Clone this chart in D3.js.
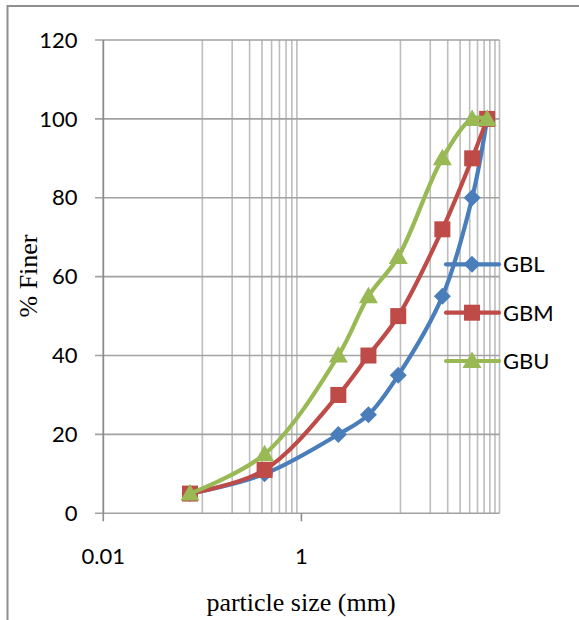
<!DOCTYPE html>
<html>
<head>
<meta charset="utf-8">
<script src="https://cdn.jsdelivr.net/npm/d3@7"></script>
<style>
  html, body { margin: 0; padding: 0; background: #fff; }
  svg { display: block; }
</style>
</head>
<body>
<svg id="chart" width="579" height="620"></svg>
<script>
// Sieve sizes (mm) and cumulative % finer for each sample
const sizes = [0.075, 0.425, 2.36, 4.75, 9.5, 26.5, 53, 75];
const gbl = [5, 10, 20, 25, 35, 55, 80, 100];
const gbm = [5, 11, 30, 40, 50, 72, 90, 100];
const gbu = [5, 15, 40, 55, 65, 90, 100, 100];
const seriesNames = ["GBL", "GBM", "GBU"];
const seriesColors = ["#4A7EBB", "#BE4B48", "#98B954"];
const seriesShapes = ["diamond", "square", "triangle"];
const yTicks = [0, 20, 40, 60, 80, 100, 120];
const xLabelTicks = [0.01, 1];
const xGridTicks = [0.1, 0.2, 0.3, 0.4, 0.5, 0.6, 0.7, 0.8, 0.9, 10, 20, 30, 40, 50, 60, 70, 80, 90, 100];

const series = [gbl, gbm, gbu].map((vals, i) => ({
  name: seriesNames[i], color: seriesColors[i], shape: seriesShapes[i],
  points: vals.map((v, j) => ({ x: sizes[j], y: v }))
}));

const svg = d3.select("#chart");
const x = d3.scaleLog().domain([0.01, 100]).range([103.3, 499.5]);
const y = d3.scaleLinear().domain([0, 120]).range([513.3, 40]);

// outer chart frame
svg.append("rect")
  .attr("x", 7.5).attr("y", 6).attr("width", 600).attr("height", 640)
  .attr("fill", "none").attr("stroke", "#8e8e8e").attr("stroke-width", 2);

// vertical gridlines (log minor grid)
svg.append("g").selectAll("line").data(xGridTicks).join("line")
  .attr("x1", d => x(d)).attr("x2", d => x(d))
  .attr("y1", y(120)).attr("y2", y(0))
  .attr("stroke", "#bdbdbd").attr("stroke-width", 1.6);

// horizontal gridlines with outward tick
svg.append("g").selectAll("line").data(yTicks).join("line")
  .attr("x1", 95).attr("x2", x(100))
  .attr("y1", d => y(d)).attr("y2", d => y(d))
  .attr("stroke", "#a2a2a2").attr("stroke-width", 1.6);

// y axis line
svg.append("line")
  .attr("x1", x(0.01)).attr("x2", x(0.01)).attr("y1", y(120)).attr("y2", y(0))
  .attr("stroke", "#8c8c8c").attr("stroke-width", 1.8);

// x major ticks
svg.append("g").selectAll("line").data(xLabelTicks).join("line")
  .attr("x1", d => x(d)).attr("x2", d => x(d))
  .attr("y1", y(0)).attr("y2", y(0) + 8)
  .attr("stroke", "#8c8c8c").attr("stroke-width", 1.6);

// y tick labels
svg.append("g").selectAll("text").data(yTicks).join("text")
  .attr("x", 77.5).attr("y", d => y(d)).attr("dy", "0.35em")
  .attr("text-anchor", "end")
  .attr("font-family", "Lato, 'Open Sans', sans-serif").attr("font-size", 22)
  .attr("fill", "#000").text(d => d);

// x tick labels
svg.append("g").selectAll("text").data(xLabelTicks).join("text")
  .attr("x", d => x(d)).attr("y", 563.5)
  .attr("text-anchor", "middle")
  .attr("font-family", "Lato, 'Open Sans', sans-serif").attr("font-size", 22)
  .attr("fill", "#000").text(d => d3.format("")(d));

// axis titles
svg.append("text")
  .attr("x", 301).attr("y", 611).attr("text-anchor", "middle")
  .attr("font-family", "'Liberation Serif', 'Times New Roman', serif").attr("font-size", 26)
  .text("particle size (mm)");
svg.append("text")
  .attr("transform", "translate(37,276) rotate(-90)").attr("text-anchor", "middle")
  .attr("font-family", "'Liberation Serif', 'Times New Roman', serif").attr("font-size", 26)
  .text("% Finer");

function markerPath(shape) {
  if (shape === "diamond") return "M0,-8.5L8.5,0L0,8.5L-8.5,0Z";
  if (shape === "square") return "M-8,-8H8V8H-8Z";
  return "M0,-9.5L9.5,7L-9.5,7Z";
}

const line = d3.line().x(d => x(d.x)).y(d => y(d.y)).curve(d3.curveCatmullRom.alpha(0.5));

// series: line then markers, drawn in order
series.forEach(s => {
  const g = svg.append("g");
  g.append("path").attr("d", line(s.points))
    .attr("fill", "none").attr("stroke", s.color).attr("stroke-width", 4.2)
    .attr("stroke-linejoin", "round").attr("stroke-linecap", "round");
  g.selectAll("path.m").data(s.points).join("path").attr("class", "m")
    .attr("transform", d => `translate(${x(d.x)},${y(d.y)})`)
    .attr("d", markerPath(s.shape)).attr("fill", s.color);
});

// legend
const legendY = [264.3, 312.7, 361];
series.forEach((s, i) => {
  const g = svg.append("g").attr("transform", `translate(0,${legendY[i]})`);
  g.append("line").attr("x1", 446).attr("x2", 499).attr("y1", 0).attr("y2", 0)
    .attr("stroke", s.color).attr("stroke-width", 4.2).attr("stroke-linecap", "round");
  g.append("path").attr("transform", "translate(472,0)").attr("d", markerPath(s.shape)).attr("fill", s.color);
  g.append("text").attr("x", 503).attr("y", 0).attr("dy", "0.36em")
    .attr("font-family", "Lato, 'Open Sans', sans-serif").attr("font-size", 22)
    .attr("fill", "#000").text(s.name);
});
</script>
</body>
</html>
